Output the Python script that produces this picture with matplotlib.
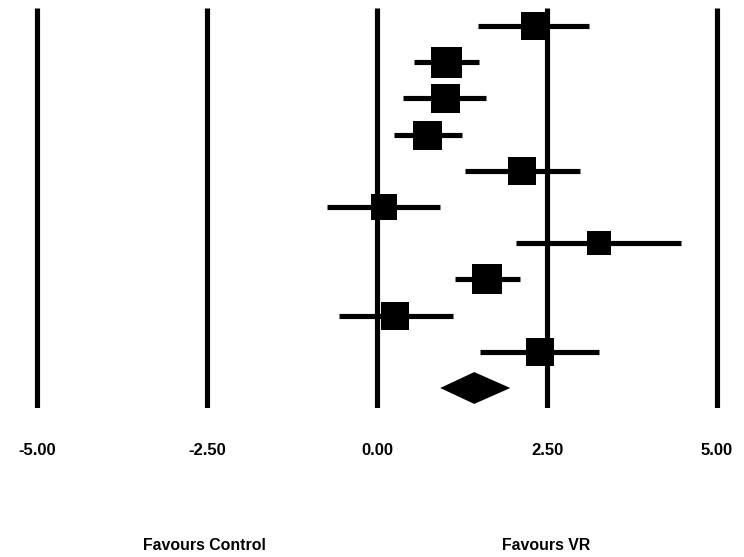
import matplotlib
matplotlib.use("Agg")
import matplotlib.pyplot as plt
import numpy as np

# Data
estimates = [2.32, 1.01, 1.00, 0.73, 2.13, 0.10, 3.26, 1.62, 0.27, 2.39]
lower =     [1.48, 0.54, 0.38, 0.25, 1.30, -0.74, 2.05, 1.15, -0.56, 1.52]
upper =     [3.12, 1.50, 1.61, 1.25, 2.99, 0.93, 4.47, 2.10, 1.12, 3.26]
weights =   [28, 31, 29, 29, 28, 27, 24, 30, 28, 28]   # relative square size
pooled_est, pooled_lo, pooled_hi = 1.43, 0.93, 1.96
xticks = [-5.0, -2.5, 0.0, 2.5, 5.0]
xtick_labels = ["-5.00", "-2.50", "0.00", "2.50", "5.00"]
side_labels = ["Favours Control", "Favours VR"]
side_label_x = [-2.54, 2.48]

W, H = 744, 557
fig = plt.figure(figsize=(W / 100, H / 100), dpi=100)
fig.patch.set_facecolor("white")

top_px, bot_px = 8, 408
ax = fig.add_axes([0, (H - bot_px) / H, 1, (bot_px - top_px) / H])
ax.set_xlim(-377 / 68, (W - 377) / 68)
row_px0, row_step = 26, 36.2
ax.set_ylim((bot_px - row_px0) / row_step, (top_px - row_px0) / row_step)

for s in ax.spines.values():
    s.set_visible(False)

lw = 3.7
for xv in xticks:
    ax.axvline(xv, color="black", lw=lw, zorder=1, solid_capstyle="butt")

rows = np.arange(len(estimates))
ax.hlines(rows, lower, upper, color="black", lw=lw, zorder=2)
for r, e, w in zip(rows, estimates, weights):
    ax.plot([e], [r], marker="s", markersize=w * 0.72, color="black",
            markeredgewidth=0, zorder=3)

# pooled diamond
pr = len(estimates)
hh = 0.44
ax.fill([pooled_lo, pooled_est, pooled_hi, pooled_est],
        [pr, pr - hh, pr, pr + hh], color="black", zorder=3, lw=0)

ax.set_xticks(xticks)
ax.set_xticklabels(xtick_labels, fontsize=12, fontweight="bold",
                   family=["Liberation Sans", "DejaVu Sans"])
ax.tick_params(axis="x", length=0, pad=25.5)
ax.set_yticks([])

for lab, xv in zip(side_labels, side_label_x):
    ax.annotate(lab, xy=(xv, 0), xycoords=("data", "figure fraction"),
                xytext=(0, (H - 545) * 0.72), textcoords="offset points",
                ha="center", va="center", fontsize=11.4, fontweight="bold",
                family=["Liberation Sans", "DejaVu Sans"], annotation_clip=False)

fig.savefig("out.png", dpi=100, facecolor="white")
